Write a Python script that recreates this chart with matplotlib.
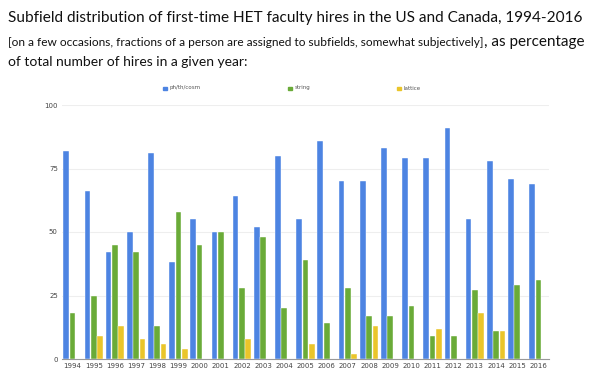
import matplotlib
matplotlib.use("Agg")
import matplotlib.pyplot as plt
import numpy as np

years = [str(y) for y in range(1994, 2017)]
ph_th_cosm = [82, 66, 42, 50, 81, 38, 55, 50, 64, 52, 80, 55, 86, 70, 70, 83, 79, 79, 91, 55, 78, 71, 69]
string = [18, 25, 45, 42, 13, 58, 45, 50, 28, 48, 20, 39, 14, 28, 17, 17, 21, 9, 9, 27, 11, 29, 31]
lattice = [0, 9, 13, 8, 6, 4, 0, 0, 8, 0, 0, 6, 0, 2, 13, 0, 0, 12, 0, 18, 11, 0, 0]
series_names = ["ph/th/cosm", "string", "lattice"]
colors = ["#4d84e2", "#6aab38", "#eac52a"]
yticks = [0, 25, 50, 75, 100]

fig = plt.figure(figsize=(6, 3.77), dpi=100)
ax = fig.add_axes([62/600, 1-359/377, (549-62)/600, (359-105)/377])

x = np.arange(len(years))
w = 0.27
for i, (vals, c, name) in enumerate(zip([ph_th_cosm, string, lattice], colors, series_names)):
    ax.bar(x + (i-1)*0.3, vals, width=w, color=c, edgecolor="white", linewidth=0.3, label=name)

ax.set_xlim(-0.5, len(years)-0.5)
ax.set_ylim(0, 100)
ax.set_yticks(yticks)
ax.set_yticklabels([str(t) for t in yticks], fontsize=5, color="#444444")
ax.set_xticks(x)
ax.set_xticklabels(years, fontsize=5, color="#444444")
ax.tick_params(length=0, pad=3)
ax.yaxis.grid(True, color="#eeeeee", linewidth=0.8)
ax.set_axisbelow(True)
for s in ["top", "right", "left"]:
    ax.spines[s].set_visible(False)
ax.spines["bottom"].set_color("#999999")
ax.spines["bottom"].set_linewidth(0.8)

# legend
legend_x = [163, 288, 397]
for lx, c, name in zip(legend_x, colors, series_names):
    fig.patches.append(plt.Rectangle((lx/600, 1-90/377), 3.5/600, 3.5/377, color=c, transform=fig.transFigure, figure=fig))
    fig.text((lx+7)/600, 1-88/377, name, fontsize=4, color="#555555", va="center")

font = ["Lato", "DejaVu Sans"]
fig.text(8/600, 1-18/377, "Subfield distribution of first-time HET faculty hires in the US and Canada, 1994-2016",
         fontsize=11.1, family=font, va="center", color="#111111")
t1 = fig.text(8/600, 1-43/377,
              "[on a few occasions, fractions of a person are assigned to subfields, somewhat subjectively]",
              fontsize=8.6, family=font, va="center", color="#111111")
fig.canvas.draw()
bb = t1.get_window_extent()
fig.text(bb.x1/600, 1-42/377, ", as percentage", fontsize=11, family=font, va="center", color="#111111")
fig.text(8/600, 1-62/377, "of total number of hires in a given year:", fontsize=10, family=font, va="center", color="#111111")

fig.savefig("out.png", dpi=100)
